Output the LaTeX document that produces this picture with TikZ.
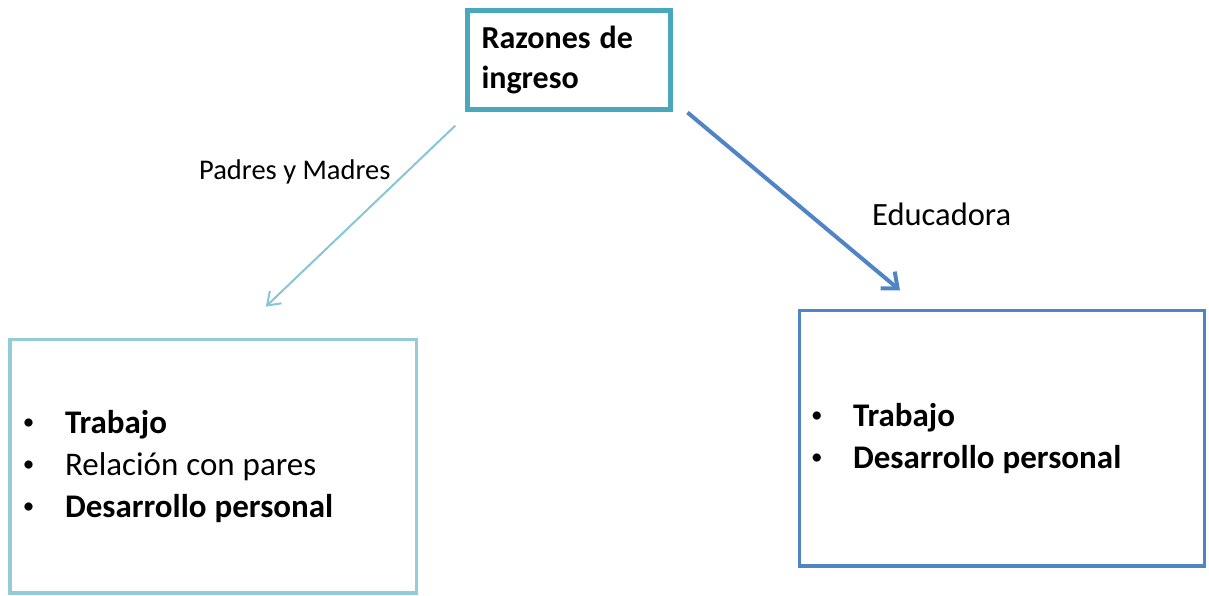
\documentclass[tikz,border=0pt]{standalone}
\usepackage{fontspec}
\setmainfont{Carlito}
\usetikzlibrary{arrows.meta}

\definecolor{razoncolor}{HTML}{4AA8BC}
\definecolor{padrescolor}{HTML}{93CBD9}
\definecolor{padresflecha}{HTML}{86C6D5}
\definecolor{educcolor}{HTML}{5084C4}

\newcommand{\punto}[1]{\makebox[42pt][l]{\raisebox{4pt}{\scalebox{0.7}{•}}}#1}
\newcommand{\apretar}[1]{\spaceskip=#1\relax}

\begin{document}
\begin{tikzpicture}[x=1pt, y=-1pt,
    caja/.style={draw, rectangle, align=flush left, inner ysep=0pt},
    etiqueta/.style={inner sep=0pt, anchor=base west},
    flechapadres/.style={draw=padresflecha, line width=2pt, -{Straight Barb[length=12pt,width=17pt]}},
    flechaeduc/.style={draw=educcolor, line width=4pt, -{Straight Barb[length=13pt,width=22pt]}}]

    % Paso 1: marco de la figura
    \useasboundingbox (0,0) rectangle (1209,596);

    % Paso 2: cajas
    \node[caja, draw=razoncolor, line width=5pt, minimum width=202.5pt, minimum height=99.5pt,
        text width=174.5pt, inner xsep=14pt,
        font=\bfseries\fontsize{32}{40}\selectfont\apretar{9pt}]
        (razones) at (568.75,60.25) {Razones de\\ ingreso};

    \node[caja, draw=padrescolor, line width=3.5pt, minimum width=406.5pt, minimum height=253.5pt,
        text width=380.5pt, inner xsep=13pt, font=\fontsize{33}{42}\selectfont\apretar{8pt}]
        (padres) at (213.25,466.25)
        {\punto{\textbf{Trabajo}}\\ \punto{Relación con pares}\\ \punto{\textbf{Desarrollo personal}}};

    \node[caja, draw=educcolor, line width=3.5pt, minimum width=405pt, minimum height=255.5pt,
        text width=382pt, inner xsep=11.5pt, font=\fontsize{33}{42}\selectfont\apretar{8pt}]
        (educ) at (1002,438.25)
        {\punto{\textbf{Trabajo}}\\ \punto{\textbf{Desarrollo personal}}};

    % Paso 3: flechas
    \draw[flechapadres, shorten <=19pt, shorten >=45pt]
        ([xshift=4pt]razones.south west) -- ([xshift=20pt]padres.north);
    \draw[flechaeduc, shorten >=28.7pt]
        ([xshift=15pt]razones.south east) -- ([xshift=-80pt]educ.north);

    % Paso 4: etiquetas
    \node[etiqueta, font=\fontsize{28.5}{34}\selectfont] (lblpadres) at (199,180) {Padres y Madres};
    \node[etiqueta, font=\fontsize{32.5}{38}\selectfont] (lbleduc) at (872,225) {Educadora};

\end{tikzpicture}
\end{document}
